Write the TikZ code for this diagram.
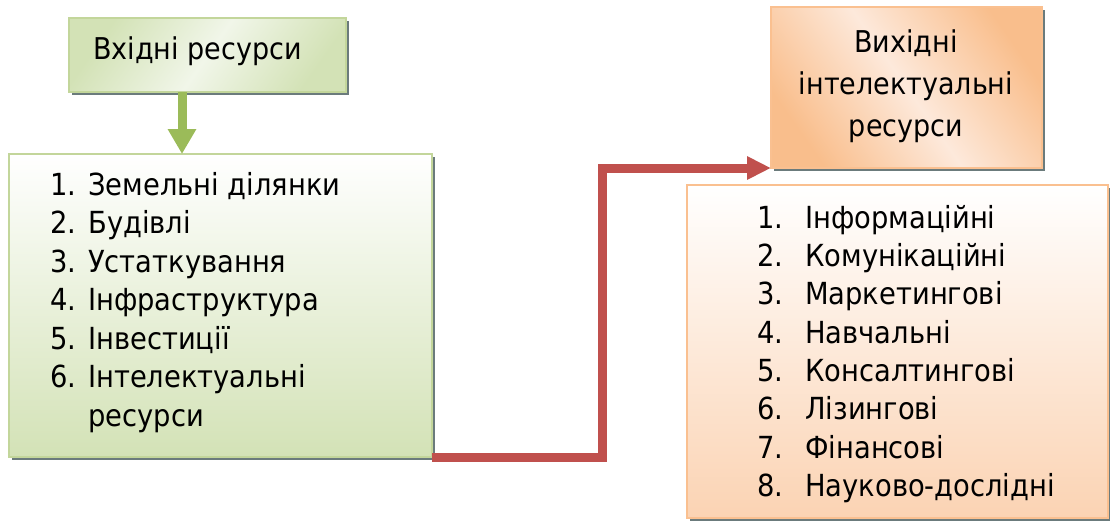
\documentclass[tikz,border=0pt]{standalone}
\usepackage{fontspec}
\setmainfont{DejaVu Sans Condensed}
\usetikzlibrary{arrows.meta,shadows}

\definecolor{grnEdge}{HTML}{C3D69B}
\definecolor{grnDeep}{HTML}{D3E2B6}
\definecolor{grnPale}{HTML}{F1F6E9}
\definecolor{grnArrow}{HTML}{9BBB59}
\definecolor{redArrow}{HTML}{C0504D}
\definecolor{orgEdge}{HTML}{FAC090}
\definecolor{orgDeep}{HTML}{F9BE8C}
\definecolor{orgPale}{HTML}{FDE9DB}
\definecolor{orgLow}{HTML}{FBD3B3}
\definecolor{shadowC}{HTML}{6B7B7C}

% diagonal bands: deep at both ends, pale in the middle
\pgfdeclarehorizontalshading{greenband}{100bp}{color(0bp)=(grnDeep); color(25bp)=(grnDeep); color(50bp)=(grnPale); color(75bp)=(grnDeep); color(100bp)=(grnDeep)}
\pgfdeclarehorizontalshading{orangeband}{100bp}{color(0bp)=(orgDeep); color(25bp)=(orgDeep); color(50bp)=(orgPale); color(75bp)=(orgDeep); color(100bp)=(orgDeep)}

\tikzset{
  boxbase/.style={rectangle, anchor=north west, inner sep=0pt, outer sep=0pt, line width=1.5pt,
    general shadow={fill=shadowC, shadow xshift=2.4pt, shadow yshift=-2.4pt}},
  headgreen/.style={boxbase, draw=grnEdge, shading=greenband, shading angle=-35},
  listgreen/.style={boxbase, draw=grnEdge, top color=white, bottom color=grnDeep},
  headorange/.style={boxbase, draw=orgEdge, shading=orangeband, shading angle=35},
  listorange/.style={boxbase, draw=orgEdge, top color=white, bottom color=orgLow},
  headtext/.style={inner sep=0pt, font=\fontsize{22.5}{27}\selectfont},
  itemtext/.style={inner sep=0pt, anchor=base west, font=\fontsize{22.8}{27}\selectfont},
  flowarrow/.style={line width=6.75pt, line join=miter},
}

\begin{document}
\begin{tikzpicture}[x=0.75pt, y=-0.75pt]
  \useasboundingbox (0,0) rectangle (1110,522);

  % input side
  \node[headgreen, minimum width=207.75pt, minimum height=55.5pt] (inbox) at (69,18) {};
  \node[headtext, anchor=base west] (intitle) at (93,59) {Вхідні ресурси};

  \node[listgreen, minimum width=317.25pt, minimum height=227.25pt] (leftbox) at (9,154) {};
  \foreach \n/\t/\y in {1/Земельні ділянки/195, 2/Будівлі/233.5, 3/Устаткування/272,
      4/Інфраструктура/310.5, 5/Інвестиції/349, 6/Інтелектуальні/387.5}
    \node[itemtext] (in\n) at (50,\y) {\makebox[28.5pt][l]{\n.}\t};
  \node[itemtext] (in6b) at (88,426) {ресурси};

  % output side
  \node[headorange, minimum width=203.25pt, minimum height=120.75pt] (outbox) at (771,7) {};
  \node[headtext, anchor=base] (outt1) at (906,52) {Вихідні};
  \node[headtext, anchor=base] (outt2) at (906,94) {інтелектуальні};
  \node[headtext, anchor=base] (outt3) at (906,136) {ресурси};

  \node[listorange, minimum width=315.75pt, minimum height=249.75pt] (rightbox) at (687,185) {};
  \foreach \n/\t/\y in {1/Інформаційні/228, 2/Комунікаційні/266.3, 3/Маркетингові/304.6,
      4/Навчальні/343, 5/Консалтингові/381.3, 6/Лізингові/419.6, 7/Фінансові/458,
      8/Науково-дослідні/496.3}
    \node[itemtext] (out\n) at (757,\y) {\makebox[36pt][l]{\n.}\t};

  % connectors
  \coordinate (gx) at (182,0);
  \draw[flowarrow, draw=grnArrow, -{Triangle[width=20.25pt, length=18.75pt]}]
    (inbox.south -| gx) -- (leftbox.north -| gx);

  \coordinate (bx) at (602,0);
  \draw[flowarrow, draw=redArrow, -{Triangle[width=16.5pt, length=18pt]}]
    (leftbox.south east) -| (bx |- outbox.south west) -- (outbox.south west);
\end{tikzpicture}
\end{document}
